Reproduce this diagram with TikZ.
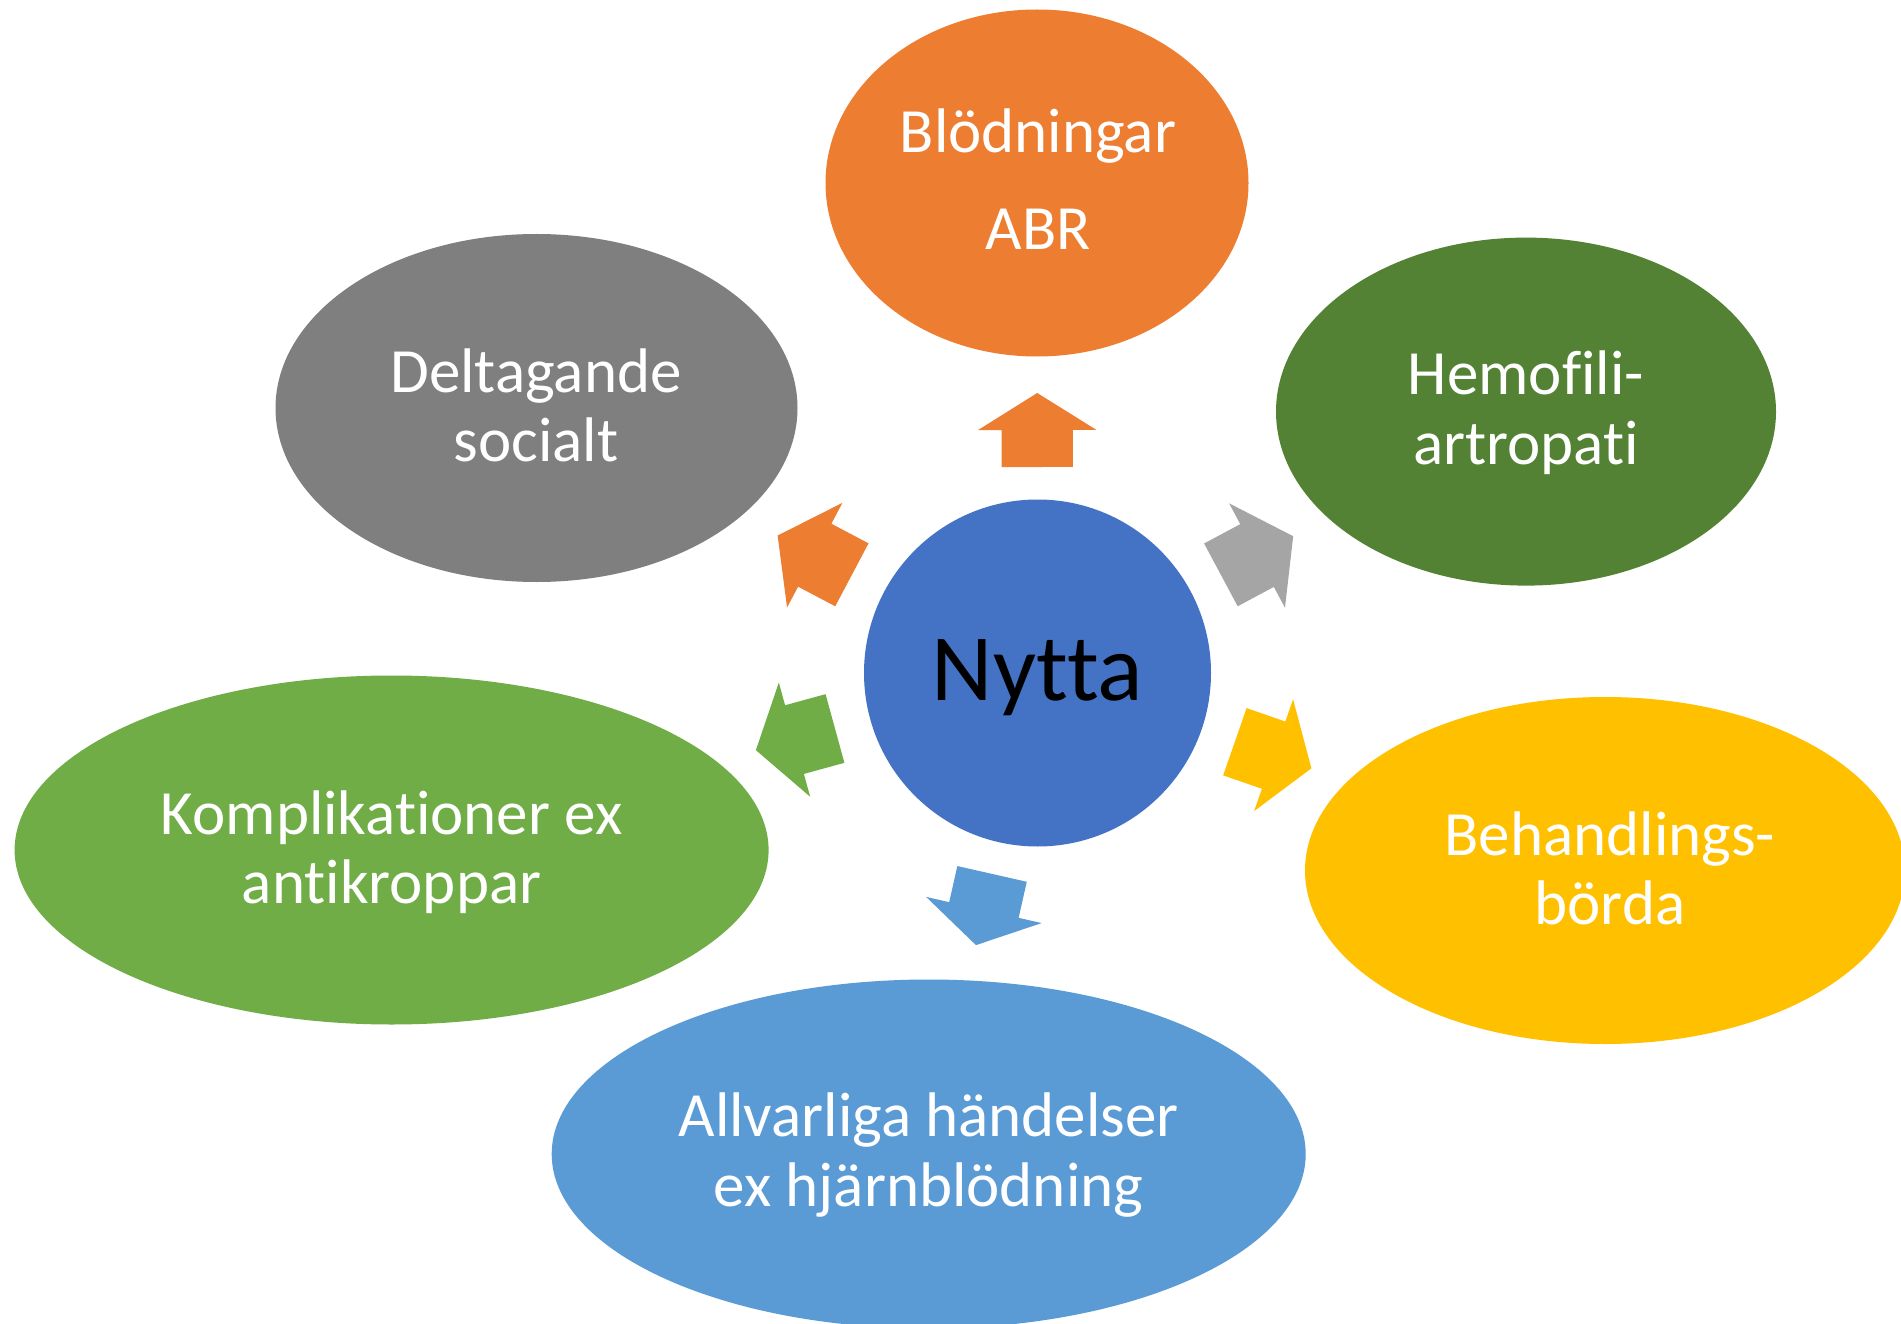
\documentclass[tikz,border=0pt]{standalone}
\usepackage{fontspec}
\setmainfont{Carlito}[Ligatures=NoCommon]
\usetikzlibrary{shapes.geometric,calc}
\definecolor{cOrange}{HTML}{ED7D31}
\definecolor{cGray}{HTML}{7F7F7F}
\definecolor{cLGray}{HTML}{A5A5A5}
\definecolor{cDGreen}{HTML}{548235}
\definecolor{cGreen}{HTML}{70AD47}
\definecolor{cYellow}{HTML}{FFC000}
\definecolor{cBlue}{HTML}{5B9BD5}
\definecolor{cCircle}{HTML}{4472C4}
\newcommand\blockarrow[6]{%
  \coordinate (s0) at ($(#2.center)!#4!(#3.center)$);
  \coordinate (s1) at ($(#2.center)!#5!(#3.center)$);
  \coordinate (tp) at ($(#2.center)!#6!(#3.center)$);
  \fill[#1] ($(s0)!35.6pt!90:(tp)$) -- ($(s1)!35.6pt!90:(tp)$) -- ($(s1)!59.2pt!90:(tp)$)
    -- (tp) -- ($(s1)!59.2pt!-90:(tp)$) -- ($(s1)!35.6pt!-90:(tp)$) -- ($(s0)!35.6pt!-90:(tp)$) -- cycle;
}
\begin{document}
\begin{tikzpicture}[x=1pt,y=-1pt,
  bubble/.style={ellipse, inner sep=0pt, draw=none},
  lbl/.style={anchor=base, text=white, inner sep=0pt, font=\fontsize{63}{69}\selectfont}]
\clip (0,0) rectangle (1901,1324);
\fill[white] (0,0) rectangle (1901,1324);
% ellipses
\node[bubble, fill=cOrange, minimum width=423pt, minimum height=347pt] (top) at (1037,183) {};
\node[bubble, fill=cGray, minimum width=522pt, minimum height=348pt] (ul) at (536.5,408) {};
\node[bubble, fill=cDGreen, minimum width=500pt, minimum height=348pt] (ur) at (1526,411.6) {};
\node[bubble, fill=cGreen, minimum width=754pt, minimum height=349pt] (ll) at (391.6,850) {};
\node[bubble, fill=cYellow, minimum width=600pt, minimum height=347pt] (lr) at (1605,870.5) {};
\node[bubble, fill=cBlue, minimum width=754pt, minimum height=349pt] (bot) at (928.7,1154) {};
% center
\node[circle, fill=cCircle, minimum size=347pt, inner sep=0pt] (c) at (1037.5,673) {};
\node[anchor=base, inner sep=0pt, font=\fontsize{95}{100}\selectfont] (ct) at (1037.5,700) {Nytta};
% arrows
\blockarrow{cOrange}{c}{top}{206pt}{243pt}{280pt}
\blockarrow{cOrange}{c}{ul}{210pt}{252pt}{294pt}
\blockarrow{cLGray}{c}{ur}{208pt}{249pt}{290pt}
\blockarrow{cGreen}{c}{ll}{210pt}{252pt}{292pt}
\blockarrow{cYellow}{c}{lr}{209pt}{250pt}{290pt}
\blockarrow{cBlue}{c}{bot}{206pt}{243pt}{279pt}
% labels
\node[lbl] (t1) at (1038,152.8) {Blödningar};
\node[lbl] (t2) at (1038,249.8) {ABR};
\node[lbl] (ul1) at (536,392) {Deltagande};
\node[lbl] (ul2) at (536,461) {socialt};
\node[lbl] (ur1) at (1526,394) {Hemofili-};
\node[lbl] (ur2) at (1526,464) {artropati};
\node[lbl] (ll1) at (391.6,834) {Komplikationer ex};
\node[lbl] (ll2) at (391.6,903) {antikroppar};
\node[lbl] (lr1) at (1610,855) {Behandlings-};
\node[lbl] (lr2) at (1610,924) {börda};
\node[lbl] (b1) at (928.7,1136) {Allvarliga händelser};
\node[lbl] (b2) at (928.7,1206) {ex hjärnblödning};
\end{tikzpicture}
\end{document}
